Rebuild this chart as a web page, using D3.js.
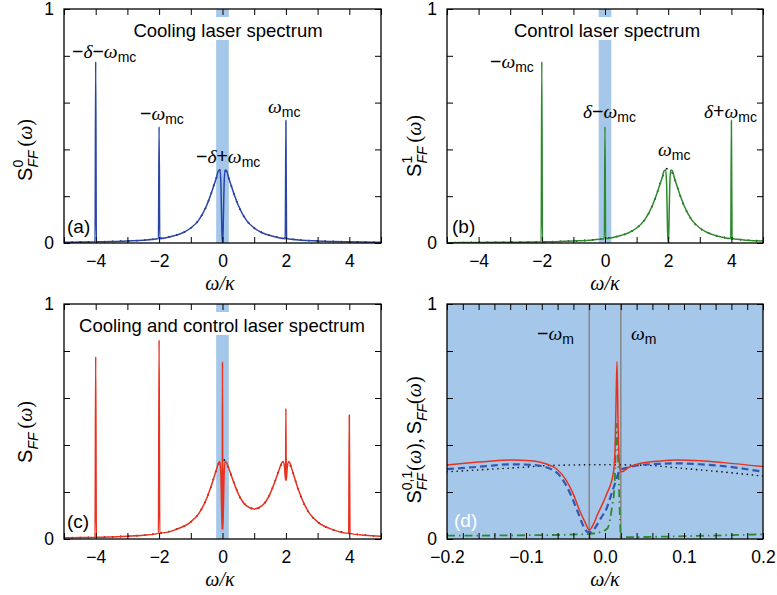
<!DOCTYPE html>
<html>
<head>
  <meta charset="utf-8">
  <title></title>
  <style>
    body,html{
      margin:0;
      padding:0;
      background:#fff;
    }
  </style>
</head>
<body>
  <div id="container"></div>
  <script src="https://d3js.org/d3.v7.min.js"></script>
  <script type="text/javascript">

    // ---- data ----
    var bandRange = [-0.2, 0.2];
    var xTicksWide = [-4, -2, 0, 2, 4];
    var xTicksNarrow = [-0.2, -0.1, 0, 0.1, 0.2];
    var yTickLabels = [0, 1];
    var omegaM = [-0.02, 0.02];

    // (a) cooling laser, blue
    var coolingCurve = [[-5,0.003],[-4.5,0.004],[-4.02,0.005],[-4,0.775],[-3.98,0.005],[-3.5,0.006],[-3,0.009],[-2.5,0.012],
      [-2.02,0.019],[-2,0.497],[-1.98,0.019],[-1.5,0.032],[-1.25,0.044],[-1,0.064],[-0.75,0.098],[-0.5,0.16],[-0.4,0.195],
      [-0.3,0.235],[-0.2,0.276],[-0.12,0.31],[-0.08,0.312],[-0.05,0.25],[-0.03,0.12],[-0.01,0.005],[0.01,0.005],[0.03,0.12],
      [0.05,0.25],[0.08,0.312],[0.12,0.31],[0.2,0.276],[0.3,0.235],[0.4,0.195],[0.5,0.16],[0.75,0.098],[1,0.064],[1.25,0.044],
      [1.5,0.032],[1.98,0.019],[2,0.523],[2.02,0.019],[2.5,0.012],[3,0.009],[3.5,0.006],[4,0.005],[4.5,0.004],[5,0.003]];
    var coolingRef = [[-5,0.003],[-4,0.005],[-3,0.009],[-2.5,0.012],[-2,0.019],[-1.5,0.032],[-1.25,0.044],[-1,0.064],[-0.75,0.098],
      [-0.5,0.16],[-0.4,0.195],[-0.3,0.235],[-0.2,0.276],[-0.1,0.308],[0,0.32],[0.1,0.308],[0.2,0.276],[0.3,0.235],[0.4,0.195],
      [0.5,0.16],[0.75,0.098],[1,0.064],[1.25,0.044],[1.5,0.032],[2,0.019],[2.5,0.012],[3,0.009],[4,0.005],[5,0.003]];

    // (b) control laser, green
    var controlCurve = [[-5,0.0016],[-4,0.0022],[-3,0.0032],[-2.02,0.0049],[-2,0.775],[-1.98,0.005],[-1,0.0086],[-0.5,0.012],
      [-0.02,0.019],[0,0.497],[0.02,0.019],[0.5,0.032],[0.75,0.044],[1,0.064],[1.25,0.098],[1.5,0.16],[1.6,0.195],[1.7,0.235],
      [1.8,0.276],[1.88,0.31],[1.92,0.312],[1.95,0.25],[1.97,0.12],[1.99,0.005],[2.01,0.005],[2.03,0.12],[2.05,0.25],[2.08,0.312],
      [2.12,0.31],[2.2,0.276],[2.3,0.235],[2.4,0.195],[2.5,0.16],[2.75,0.098],[3,0.064],[3.25,0.044],[3.5,0.032],[3.98,0.019],
      [4,0.523],[4.02,0.019],[4.5,0.012],[5,0.0086]];
    var controlRef = [[-5,0.0016],[-4,0.0022],[-3,0.0032],[-2,0.0049],[-1,0.0086],[-0.5,0.012],[0,0.019],[0.5,0.032],[0.75,0.044],
      [1,0.064],[1.25,0.098],[1.5,0.16],[1.6,0.195],[1.7,0.235],[1.8,0.276],[1.9,0.308],[2,0.32],[2.1,0.308],[2.2,0.276],[2.3,0.235],
      [2.4,0.195],[2.5,0.16],[2.75,0.098],[3,0.064],[3.25,0.044],[3.5,0.032],[4,0.019],[4.5,0.012],[5,0.0086]];

    // (c) both lasers, red
    var bothCurve = [[-5,0.005],[-4.5,0.006],[-4.02,0.007],[-4,0.776],[-3.98,0.007],[-3.5,0.009],[-3,0.012],[-2.5,0.016],
      [-2.02,0.024],[-2,0.847],[-1.98,0.025],[-1.5,0.039],[-1,0.073],[-0.75,0.108],[-0.5,0.172],[-0.4,0.208],[-0.3,0.249],
      [-0.2,0.292],[-0.12,0.325],[-0.08,0.33],[-0.05,0.27],[-0.03,0.14],[-0.01,0.04],[0,0.755],[0.01,0.04],[0.03,0.14],
      [0.05,0.27],[0.08,0.33],[0.12,0.327],[0.2,0.3],[0.3,0.262],[0.4,0.225],[0.5,0.192],[0.75,0.142],[1,0.128],[1.25,0.142],
      [1.5,0.192],[1.6,0.225],[1.7,0.262],[1.8,0.3],[1.88,0.327],[1.92,0.33],[1.96,0.3],[1.99,0.25],[2,0.556],[2.01,0.25],
      [2.04,0.3],[2.08,0.33],[2.12,0.325],[2.2,0.292],[2.3,0.249],[2.4,0.208],[2.5,0.172],[2.75,0.108],[3,0.073],[3.5,0.039],
      [3.98,0.024],[4,0.528],[4.02,0.024],[4.5,0.016],[5,0.012]];
    var bothRef = [[-5,0.005],[-4,0.007],[-3,0.012],[-2.5,0.016],[-2,0.024],[-1.5,0.039],[-1,0.073],[-0.75,0.108],[-0.5,0.172],
      [-0.4,0.208],[-0.3,0.249],[-0.2,0.292],[-0.1,0.325],[0,0.339],[0.1,0.329],[0.2,0.3],[0.3,0.262],[0.4,0.225],[0.5,0.192],
      [0.75,0.142],[1,0.128],[1.25,0.142],[1.5,0.192],[1.6,0.225],[1.7,0.262],[1.8,0.3],[1.9,0.329],[2,0.339],[2.1,0.325],
      [2.2,0.292],[2.3,0.249],[2.4,0.208],[2.5,0.172],[2.75,0.108],[3,0.073],[3.5,0.039],[4,0.024],[4.5,0.016],[5,0.012]];

    // (d) zoom on the band
    var zoomRef = [[-0.2,0.286],[-0.15,0.296],[-0.1,0.306],[-0.07,0.313],[0,0.316],[0.05,0.314],[0.1,0.3],[0.15,0.285],[0.2,0.268]];
    var zoomCooling = [[-0.2,0.297],[-0.15,0.31],[-0.12,0.318],[-0.09,0.315],[-0.07,0.3],[-0.055,0.26],[-0.045,0.2],[-0.035,0.12],
      [-0.028,0.06],[-0.022,0.03],[-0.018,0.03],[-0.012,0.05],[-0.005,0.09],[0.002,0.13],[0.008,0.19],[0.013,0.24],[0.017,0.28],
      [0.02,0.295],[0.03,0.305],[0.045,0.315],[0.07,0.32],[0.09,0.322],[0.12,0.318],[0.15,0.31],[0.2,0.286]];
    var zoomControl = [[-0.2,0.014],[-0.1,0.016],[-0.05,0.018],[-0.02,0.022],[-0.005,0.03],[0.003,0.045],[0.0063,0.081],[0.0095,0.15],
      [0.0114,0.194],[0.013,0.3],[0.0148,0.49],[0.016,0.4],[0.0177,0.223],[0.019,0.08],[0.02,0.01],[0.03,0.008],[0.1,0.012],[0.2,0.02]];
    var zoomBoth = [[-0.2,0.315],[-0.15,0.33],[-0.12,0.336],[-0.09,0.332],[-0.075,0.32],[-0.062,0.3],[-0.05,0.255],[-0.04,0.19],
      [-0.032,0.12],[-0.025,0.07],[-0.02,0.038],[-0.015,0.06],[-0.01,0.1],[0.002,0.19],[0.0105,0.28],[0.0125,0.36],[0.0135,0.5],
      [0.0152,0.755],[0.0165,0.5],[0.018,0.33],[0.0195,0.286],[0.021,0.286],[0.03,0.305],[0.045,0.322],[0.07,0.332],[0.09,0.336],
      [0.12,0.333],[0.15,0.325],[0.2,0.308]];

    // ---- styles ----
    var sans = 'Arial, "Liberation Sans", sans-serif';
    var serif = '"Times New Roman", "Liberation Serif", serif';
    var bandColor = '#a5c8ea';
    var colors = { blue:'#2a45a8', green:'#2b8a2b', red:'#e8321f', grey:'#8a8a8a' };

    var svg = d3.select('#container').append('svg').attr('width',777).attr('height',595)
      .style('background-color','#fff');

    // text made of pieces: [text, kind, 'back'] ; 'back' stacks a piece under the previous one
    function rich(sel, parts, size, subShift){
      var cur = 0, prevLen = 0, carry = 0;
      subShift = subShift || 0.2;
      parts.forEach(function(p){
        var kind = p[1] || 'rm';
        var small = (kind==='sub' || kind==='subit' || kind==='sup');
        var shift = (kind==='sub' || kind==='subit') ? size*subShift : (kind==='sup' ? -size*0.45 : 0);
        var ts = sel.append('tspan').text(p[0])
          .attr('dy', shift - cur)
          .style('font-size', (small ? Math.round(size*0.72) : size) + 'px')
          .style('font-family', (kind==='gr' || kind==='serif') ? serif : sans)
          .style('font-style', (kind==='gr' || kind==='subit') ? 'italic' : 'normal');
        var len = ts.node().getComputedTextLength();
        if(p[2] === 'back'){
          ts.attr('dx', -prevLen);
          carry = Math.max(0, prevLen - len);
        } else if(carry){
          ts.attr('dx', carry);
          carry = 0;
        }
        cur = shift;
        prevLen = len;
      });
      return sel;
    }

    function label(x, y, parts, opts){
      opts = opts || {};
      var t = svg.append('text').attr('x',x).attr('y',y)
        .attr('fill', opts.fill || '#000')
        .attr('text-anchor', opts.anchor || 'start');
      if(opts.rotate){
        t.attr('x',0).attr('y',0).attr('transform','translate('+x+','+y+') rotate(-90)');
      }
      return rich(t, parts, opts.size || 19.5, opts.subShift);
    }

    function drawPanel(p){
      var w = p.right - p.left, h = p.bottom - p.top;
      var g = svg.append('g').attr('transform','translate('+p.left+','+p.top+')');
      var x = d3.scaleLinear().domain(p.xDomain).range([0,w]);
      var y = d3.scaleLinear().domain([0,1]).range([h,0]);

      g.append('clipPath').attr('id','clip-'+p.id).append('rect').attr('width',w).attr('height',h);

      if(p.bg){
        g.append('rect').attr('width',w).attr('height',h).attr('fill',p.bg);
      } else {
        g.append('rect').attr('x',x(bandRange[0])).attr('width',x(bandRange[1])-x(bandRange[0]))
          .attr('height',h).attr('fill',bandColor);
      }

      if(p.title){
        var tg = g.append('g');
        var tt = tg.append('text').attr('x',p.title[1]-p.left).attr('y',p.title[2]-p.top)
          .attr('text-anchor','middle').style('font-family',sans).style('font-size','18.5px')
          .text(p.title[0]);
        var bb = tt.node().getBBox();
        tg.insert('rect','text').attr('x',bb.x-3).attr('y',p.title[2]-p.top-20)
          .attr('width',bb.width+6).attr('height',23).attr('fill','#fff');
      }

      var line = d3.line()
        .x(function(d){ return x(d[0]); })
        .y(function(d){ return y(d[1]); })
        .curve(d3.curveMonotoneX);

      var plot = g.append('g').attr('clip-path','url(#clip-'+p.id+')');

      if(p.vlines){
        plot.selectAll('line.vl').data(p.vlines).enter().append('line')
          .attr('x1',function(d){ return x(d); }).attr('x2',function(d){ return x(d); })
          .attr('y1',0).attr('y2',h)
          .attr('stroke',colors.grey).attr('stroke-width',1.6);
      }

      p.series.forEach(function(s){
        plot.append('path').datum(s.data)
          .attr('d',line)
          .attr('fill','none')
          .attr('stroke',s.color)
          .attr('stroke-width',s.width || 1.5)
          .attr('stroke-linecap',s.cap || 'butt')
          .attr('stroke-dasharray',s.dash || null);
      });

      function isMajor(d){
        return p.xMajor.some(function(m){ return Math.abs(m-d) < 1e-9; });
      }

      function styleAxis(a){
        a.select('.domain').remove();
        a.selectAll('.tick line').attr('stroke','#000').attr('stroke-width',1);
        a.selectAll('.tick text').style('font-family',sans).style('font-size','17.5px').attr('fill','#000');
      }

      g.append('g').attr('transform','translate(0,'+h+')')
        .call(d3.axisBottom(x).tickValues(x.ticks(p.minor)).tickSize(-6).tickPadding(12)
          .tickFormat(function(d){ return isMajor(d) ? p.fmt(d) : ''; }))
        .call(styleAxis);
      g.append('g')
        .call(d3.axisTop(x).tickValues(x.ticks(p.minor)).tickSize(-6).tickFormat(''))
        .call(styleAxis);
      g.append('g')
        .call(d3.axisLeft(y).tickValues(y.ticks(5)).tickSize(-6).tickPadding(10)
          .tickFormat(function(d){ return yTickLabels.indexOf(d) >= 0 ? d : ''; }))
        .call(styleAxis);
      g.append('g').attr('transform','translate('+w+',0)')
        .call(d3.axisRight(y).tickValues(y.ticks(5)).tickSize(-6).tickFormat(''))
        .call(styleAxis);

      g.append('rect').attr('width',w).attr('height',h)
        .attr('fill','none').attr('stroke','#000').attr('stroke-width',1.3);
    }

    var intFmt = d3.format('d');
    var decFmt = d3.format('.1f');

    drawPanel({ id:'a', left:64, right:381, top:9, bottom:243, xDomain:[-5,5], minor:10, xMajor:xTicksWide, fmt:intFmt,
      title:['Cooling laser spectrum',228,37],
      series:[
        { data:coolingRef, color:'#000', width:1.8, dash:'0.1,8', cap:'round' },
        { data:coolingCurve, color:colors.blue }
      ]});
    drawPanel({ id:'b', left:447, right:763, top:9, bottom:243, xDomain:[-5,5], minor:10, xMajor:xTicksWide, fmt:intFmt,
      title:['Control laser spectrum',607,37],
      series:[
        { data:controlRef, color:'#000', width:1.8, dash:'0.1,8', cap:'round' },
        { data:controlCurve, color:colors.green }
      ]});
    drawPanel({ id:'c', left:64, right:381, top:304, bottom:539, xDomain:[-5,5], minor:10, xMajor:xTicksWide, fmt:intFmt,
      title:['Cooling and control laser spectrum',222,332],
      series:[
        { data:bothRef, color:'#000', width:1.8, dash:'0.1,8', cap:'round' },
        { data:bothCurve, color:colors.red }
      ]});
    drawPanel({ id:'d', left:447, right:763, top:304, bottom:539, xDomain:[-0.2,0.2], minor:20, xMajor:xTicksNarrow, fmt:decFmt,
      bg:bandColor, vlines:omegaM,
      series:[
        { data:zoomRef, color:'#111', width:1.6, dash:'0.1,5', cap:'round' },
        { data:zoomControl, color:colors.green, width:1.8, dash:'8,4,1.5,4' },
        { data:zoomCooling, color:'#3457b5', width:2.2, dash:'7,4' },
        { data:zoomBoth, color:colors.red, width:1.5 }
      ]});

    // axis titles
    [[220,290],[605,290],[220,586],[605,586]].forEach(function(c){
      label(c[0], c[1], [['\u03c9','gr'],['/','gr'],['\u03ba','gr']], { anchor:'middle', size:20 });
    });
    var ylab = { anchor:'middle', rotate:true, size:20, subShift:0.3 };
    label(32, 150, [['S'],['0','sup'],['FF','subit','back'],['\u2009(','serif'],['\u03c9','gr'],[')','serif']], ylab);
    label(421, 146, [['S'],['1','sup'],['FF','subit','back'],['\u2009(','serif'],['\u03c9','gr'],[')','serif']], ylab);
    label(32, 432, [['S'],['FF','subit'],['\u2009(','serif'],['\u03c9','gr'],[')','serif']], ylab);
    label(421, 440, [['S'],['0,1','sup'],['FF','subit','back'],['(','serif'],['\u03c9','gr'],['),\u2009','serif'],['S'],['FF','subit'],['(','serif'],['\u03c9','gr'],[')','serif']], ylab);

    // peak annotations
    label(72, 58, [['\u2212'],['\u03b4','gr'],['\u2212'],['\u03c9','gr'],['mc','sub']]);
    label(140, 120, [['\u2212'],['\u03c9','gr'],['mc','sub']]);
    label(268, 113, [['\u03c9','gr'],['mc','sub']]);
    label(196, 163, [['\u2212'],['\u03b4','gr'],['+'],['\u03c9','gr'],['mc','sub']]);
    label(490, 68, [['\u2212'],['\u03c9','gr'],['mc','sub']]);
    label(583, 118, [['\u03b4','gr'],['\u2212'],['\u03c9','gr'],['mc','sub']]);
    label(704, 118, [['\u03b4','gr'],['+'],['\u03c9','gr'],['mc','sub']]);
    label(658, 156, [['\u03c9','gr'],['mc','sub']]);
    label(537, 340, [['\u2212'],['\u03c9','gr'],['m','sub']]);
    label(631, 340, [['\u03c9','gr'],['m','sub']]);

    // panel letters
    label(67, 233, [['(a)']], { size:19 });
    label(452, 233, [['(b)']], { size:19 });
    label(67, 528, [['(c)']], { size:19 });
    label(454, 527, [['(d)']], { fill:'#fff', size:19 });

  </script>
</body>
</html>
